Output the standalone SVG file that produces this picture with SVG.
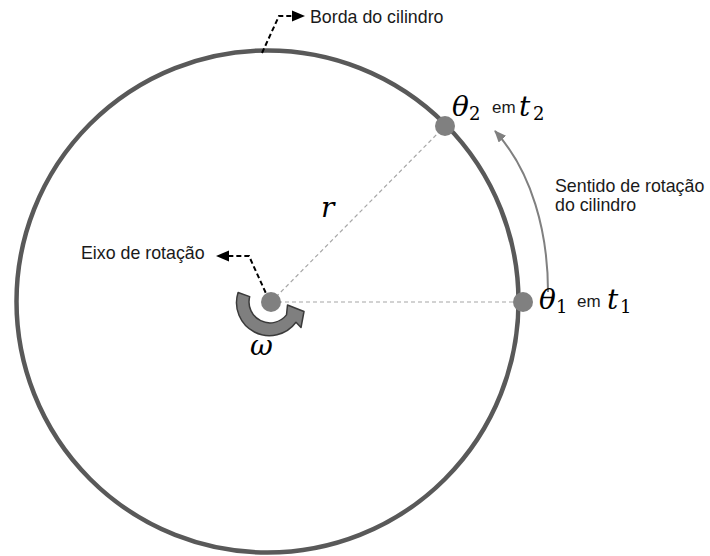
<svg xmlns="http://www.w3.org/2000/svg" width="710" height="556" viewBox="0 0 710 556">
<defs>
<style>
.lbl{font-family:"Liberation Sans",Arial,sans-serif;font-size:17.8px;fill:#1a1a1a}
.em{font-family:"Liberation Sans",Arial,sans-serif;font-size:17px;fill:#1a1a1a}
.math{font-family:"DejaVu Serif","Liberation Serif",serif;font-style:italic;font-size:28px;fill:#000}
.sub{font-family:"DejaVu Serif","Liberation Serif",serif;font-size:18px;fill:#000}
.dot{fill:#808080}
.radius{stroke:#a6a6a6;stroke-width:1.2;stroke-dasharray:4 3;fill:none}
.leader{stroke:#000;stroke-width:2;stroke-dasharray:5 3;fill:none}
.head{fill:#000}
</style>
<marker id="gry" viewBox="0 0 12 10" refX="11" refY="5" markerWidth="12" markerHeight="10" markerUnits="userSpaceOnUse" orient="auto">
<path d="M0,0 L12,5 L0,10 Z" fill="#808080"/>
</marker>
</defs>
<rect width="710" height="556" fill="#fff"/>

<g id="cylinder">
<circle cx="267.5" cy="301.5" r="251" fill="none" stroke="#595959" stroke-width="4.5"/>
</g>

<g id="connectors">
<line class="radius" x1="271" y1="302" x2="523" y2="302"/>
<line class="radius" x1="271" y1="302" x2="445" y2="126"/>
<path class="leader" d="M262,53 L279,16 L293,16"/>
<polygon class="head" points="292,10.5 305,16 292,21.5"/>
<path class="leader" d="M269,300 L249,256 L228,256"/>
<polygon class="head" points="229,250.5 216,256 229,261.5"/>
<path d="M548,292 C548,232 532,172 495,131" fill="none" stroke="#808080" stroke-width="2" marker-end="url(#gry)"/>
</g>

<g id="axis">
<circle class="dot" cx="271" cy="302" r="10"/>
<path d="M238.1,292.5 A33,33 0 0 0 296,322.3 L301,327.5 L304,311.5 L287.5,305 L286.5,314.9 A21,21 0 0 1 249.7,296.6 Z" fill="#7f7f7f" stroke="#3a3a3a" stroke-width="1.5" stroke-linejoin="round"/>
<text class="math" x="250" y="355">ω</text>
</g>

<g id="theta1">
<circle class="dot" cx="523" cy="302" r="10"/>
<text class="math" x="539" y="309">θ</text>
<text class="sub" x="556" y="313">1</text>
<text class="em" x="577" y="307">em</text>
<text class="math" x="607" y="309">t</text>
<text class="sub" x="620" y="313">1</text>
</g>

<g id="theta2">
<circle class="dot" cx="445" cy="126" r="10"/>
<text class="math" x="452" y="116">θ</text>
<text class="sub" x="469" y="120">2</text>
<text class="em" x="492" y="113">em</text>
<text class="math" x="519" y="116">t</text>
<text class="sub" x="533" y="120">2</text>
</g>

<g id="radius-label">
<text class="math" x="321" y="217">r</text>
</g>

<g id="label-borda">
<text class="lbl" x="310" y="23">Borda do cilindro</text>
</g>

<g id="label-eixo">
<text class="lbl" x="81" y="259">Eixo de rotação</text>
</g>

<g id="label-sentido">
<text class="lbl" x="555" y="192">Sentido de rotação</text>
<text class="lbl" x="555" y="211">do cilindro</text>
</g>
</svg>
